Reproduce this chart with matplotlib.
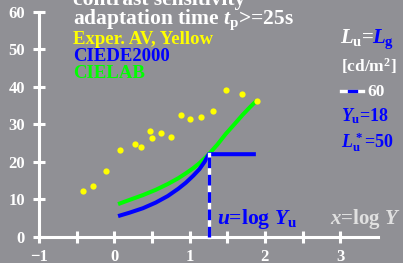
import numpy as np
import matplotlib as mpl
import matplotlib.pyplot as plt

mpl.rcParams.update({
    "font.family": "Liberation Serif", "font.weight": "bold",
    "mathtext.fontset": "custom",
    "mathtext.rm": "Liberation Serif:bold",
    "mathtext.it": "Liberation Serif:italic:bold",
    "mathtext.bf": "Liberation Serif:bold",
})

W, H = 403, 263
BG = "#909095"
BLUE = "#0000ff"
GREEN = "#00ff00"
YELLOW = "#ffff00"

# experimental points (Exper. AV, Yellow)
exp_x = [-0.42, -0.28, -0.11, 0.07, 0.28, 0.36, 0.47, 0.50, 0.62, 0.75,
         0.88, 1.01, 1.15, 1.31, 1.49, 1.70, 1.89]
exp_y = [12.2, 13.5, 17.5, 23.1, 24.8, 23.8, 28.2, 26.3, 27.7, 26.5,
         32.5, 31.3, 32.0, 33.4, 39.1, 38.1, 36.3]

# CIELAB curve
lab_x = [0.05, 0.20, 0.38, 0.55, 0.71, 0.85, 0.95, 1.05, 1.13, 1.20,
         1.255, 1.37, 1.48, 1.60, 1.70, 1.80, 1.89]
lab_y = [8.7, 9.8, 11.1, 12.5, 14.05, 15.6, 16.9, 18.3, 19.6, 20.9,
         22.0, 24.6, 27.4, 30.1, 32.4, 34.5, 36.3]

# CIEDE2000 curve, then plateau
de_x = [0.05, 0.20, 0.38, 0.55, 0.71, 0.85, 0.95, 1.05, 1.13, 1.20,
        1.255, 1.88]
de_y = [5.5, 6.4, 7.6, 9.1, 10.85, 12.8, 14.4, 16.3, 18.0, 20.0,
        22.0, 22.0]

Yu = 18
u = np.log10(Yu)
u_top = 22.0

xticks = [-1, -0.5, 0, 0.5, 1, 1.5, 2, 2.5, 3]
xlabels = ["\u22121", "", "0", "", "1", "", "2", "", "3"]
yticks = [0, 10, 20, 30, 40, 50, 60]

fig = plt.figure(figsize=(W / 100, H / 100), dpi=100, facecolor=BG)
ax = fig.add_axes([0, 0, 1, 1], facecolor=BG)
ax.set_xlim(-1.518, 3.834)
ax.set_ylim(-7.0, 63.1)

for s in ["top", "right"]:
    ax.spines[s].set_visible(False)
ax.spines["bottom"].set_position(("data", 0))
ax.spines["bottom"].set_bounds(-1, 3.5)
ax.spines["left"].set_position(("data", -1))
ax.spines["left"].set_bounds(0, 60)
for s in ["bottom", "left"]:
    ax.spines[s].set_color("white")
    ax.spines[s].set_linewidth(2.2)

ax.set_xticks(xticks)
ax.set_xticklabels(xlabels)
ax.set_yticks(yticks)
ax.tick_params(direction="inout", length=8, width=2.2, color="white",
               labelcolor="white", labelsize=12)
ax.tick_params(axis="x", pad=5)
ax.tick_params(axis="y", pad=6)

# curves
ax.plot(lab_x, lab_y, color=GREEN, lw=2.9, solid_capstyle="butt",
        solid_joinstyle="round", zorder=3)
ax.plot(de_x, de_y, color=BLUE, lw=2.9, solid_capstyle="butt",
        solid_joinstyle="round", zorder=4)
ax.plot(exp_x, exp_y, "o", color=YELLOW, ms=4.5, mec="none", zorder=5)

# u = log Yu marker
ax.plot([u, u], [0, u_top], color="white", lw=2.4, zorder=4)
ax.plot([u, u], [0, u_top], color=BLUE, lw=2.4, dashes=(3.2, 2.0), zorder=4)

def px(x, y):
    return x / W, 1 - y / H

T = ax.transAxes
ax.text(*px(73, 5), "contrast sensitivity", transform=T, color="white",
        fontsize=15.5, va="baseline")
ax.text(*px(73, 24), "adaptation time $t_\\mathrm{p}$>=25s", transform=T,
        color="white", fontsize=15.5, va="baseline")
ax.text(*px(73, 44), "Exper. AV, Yellow", transform=T, color=YELLOW,
        fontsize=13.5, va="baseline")
ax.text(*px(73, 61), "CIEDE2000", transform=T, color=BLUE,
        fontsize=13.5, va="baseline")
ax.text(*px(73, 78), "CIELAB", transform=T, color=GREEN,
        fontsize=13.5, va="baseline")

ax.text(*px(340, 43), "$L_\\mathrm{u}$=", transform=T, color="white",
        fontsize=15, va="baseline")
ax.text(*px(372, 43), "$L_\\mathrm{g}$", transform=T, color=BLUE,
        fontsize=15, va="baseline")
ax.text(*px(341, 72), "[cd/m$^\\mathrm{2}$]", transform=T, color="white",
        fontsize=12.5, va="baseline")
ax.plot([341 / W, 363 / W], [1 - 91 / H] * 2, transform=T, color="white",
        lw=2.4)
ax.plot([349 / W, 356 / W], [1 - 91 / H] * 2, transform=T, color=BLUE,
        lw=2.4)
ax.text(*px(367, 96), "60", transform=T, color="white", fontsize=12.5,
        va="baseline")
ax.text(*px(341, 121), "$Y_\\mathrm{u}$=18", transform=T, color=BLUE,
        fontsize=13, va="baseline")
ax.text(*px(341, 148), "$L^*_\\mathrm{u}$=50", transform=T, color=BLUE,
        fontsize=13, va="baseline")

ax.text(*px(217, 224), "$u$=log $Y_\\mathrm{u}$", transform=T, color=BLUE,
        fontsize=15.5, va="baseline")
ax.text(*px(330, 224), "$x$=log $Y$", transform=T, color="#e0e0e0",
        fontsize=15, va="baseline")

fig.savefig("out.png", dpi=100, facecolor=BG)
